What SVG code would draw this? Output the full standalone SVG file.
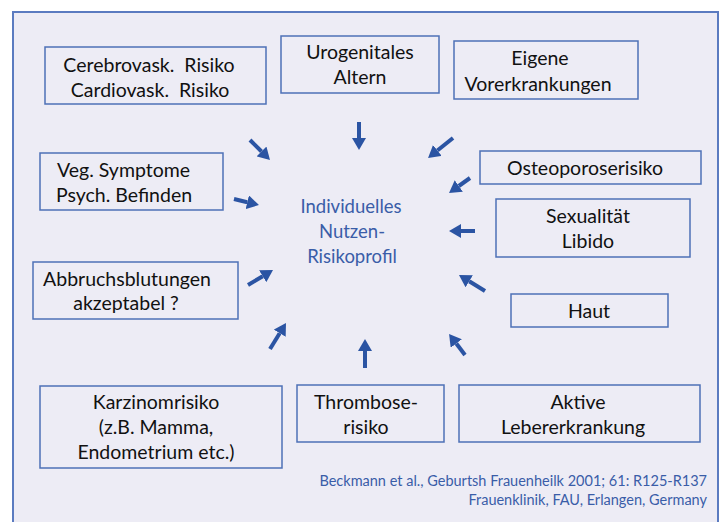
<svg xmlns="http://www.w3.org/2000/svg" width="722" height="522" viewBox="0 0 722 522">
<defs>
<style>
.box{fill:none;stroke:#4D70B6;stroke-width:1.5}
.t{font-family:Lato,"Open Sans","Liberation Sans",sans-serif;font-size:19.5px;fill:#111;text-anchor:middle;white-space:pre}
.c{font-family:Lato,"Open Sans","Liberation Sans",sans-serif;font-size:18.5px;fill:#3A5DA8;text-anchor:middle}
.cit{font-family:Lato,"Open Sans","Liberation Sans",sans-serif;font-size:14.5px;fill:#3A5DA8;text-anchor:end}
.arr{stroke:#2B54A3;stroke-width:4;fill:none;marker-end:url(#ah)}
</style>
<marker id="ah" markerUnits="userSpaceOnUse" markerWidth="13" markerHeight="14" refX="0" refY="7" orient="auto" viewBox="0 0 13 14">
<path d="M0,0 L12,7 L0,14 z" fill="#2B54A3"/>
</marker>
</defs>
<rect x="0" y="0" width="722" height="522" fill="#ffffff"/>
<rect x="13" y="12" width="705" height="520" fill="#EDECF5" stroke="#5B7BC0" stroke-width="2"/>

<g id="center">
<text class="c" x="351" y="213">Individuelles</text>
<text class="c" x="352" y="238">Nutzen-</text>
<text class="c" x="352" y="263">Risikoprofil</text>
</g>

<g id="cerebro"><rect class="box" x="45" y="47" width="221" height="57"/>
<text class="t" x="149" y="72">Cerebrovask.  Risiko</text><text class="t" x="150" y="97">Cardiovask.  Risiko</text></g>
<g id="urogenital"><rect class="box" x="281" y="36" width="158" height="57"/>
<text class="t" x="360" y="59">Urogenitales</text><text class="t" x="360" y="84">Altern</text></g>
<g id="eigene"><rect class="box" x="454" y="41" width="184" height="58"/>
<text class="t" x="540" y="65">Eigene</text><text class="t" x="538" y="91">Vorerkrankungen</text></g>
<g id="veg"><rect class="box" x="40" y="153" width="183" height="57"/>
<text class="t" x="57" y="177" style="text-anchor:start">Veg. Symptome</text><text class="t" x="56" y="202" style="text-anchor:start">Psych. Befinden</text></g>
<g id="osteo"><rect class="box" x="480" y="151" width="221" height="33"/>
<text class="t" x="585" y="175">Osteoporoserisiko</text></g>
<g id="sexual"><rect class="box" x="496" y="199" width="194" height="58"/>
<text class="t" x="588" y="223">Sexualität</text><text class="t" x="588" y="248">Libido</text></g>
<g id="abbruch"><rect class="box" x="33" y="262" width="205" height="57"/>
<text class="t" x="127" y="286">Abbruchsblutungen</text><text class="t" x="126" y="310">akzeptabel ?</text></g>
<g id="haut"><rect class="box" x="511" y="294" width="157" height="33"/>
<text class="t" x="589" y="318">Haut</text></g>
<g id="karzinom"><rect class="box" x="40" y="386" width="242" height="82"/>
<text class="t" x="156" y="409">Karzinomrisiko</text><text class="t" x="156" y="434">(z.B. Mamma,</text><text class="t" x="156" y="459">Endometrium etc.)</text></g>
<g id="thrombose"><rect class="box" x="297" y="385" width="147" height="57"/>
<text class="t" x="366" y="409">Thrombose-</text><text class="t" x="366" y="434">risiko</text></g>
<g id="leber"><rect class="box" x="459" y="385" width="241" height="57"/>
<text class="t" x="578" y="409">Aktive</text><text class="t" x="573" y="434">Lebererkrankung</text></g>

<g id="connectors">
<line class="arr" x1="250" y1="140" x2="261.5" y2="151.5"/>
<line class="arr" x1="359" y1="122" x2="359" y2="138"/>
<line class="arr" x1="453" y1="138" x2="437.4" y2="150.5"/>
<line class="arr" x1="470" y1="178" x2="458.8" y2="186"/>
<line class="arr" x1="234" y1="199" x2="247.3" y2="202.2"/>
<line class="arr" x1="475" y1="231" x2="461" y2="231"/>
<line class="arr" x1="485" y1="291" x2="469.2" y2="281.3"/>
<line class="arr" x1="248" y1="285" x2="262.7" y2="276.2"/>
<line class="arr" x1="270" y1="349" x2="279.7" y2="333.2"/>
<line class="arr" x1="365" y1="368" x2="365" y2="351"/>
<line class="arr" x1="465" y1="355" x2="456.3" y2="343.5"/>
</g>

<g id="citation">
<text class="cit" x="707" y="486">Beckmann et al., Geburtsh Frauenheilk 2001; 61: R125-R137</text>
<text class="cit" x="707" y="505">Frauenklinik, FAU, Erlangen, Germany</text>
</g>
</svg>
